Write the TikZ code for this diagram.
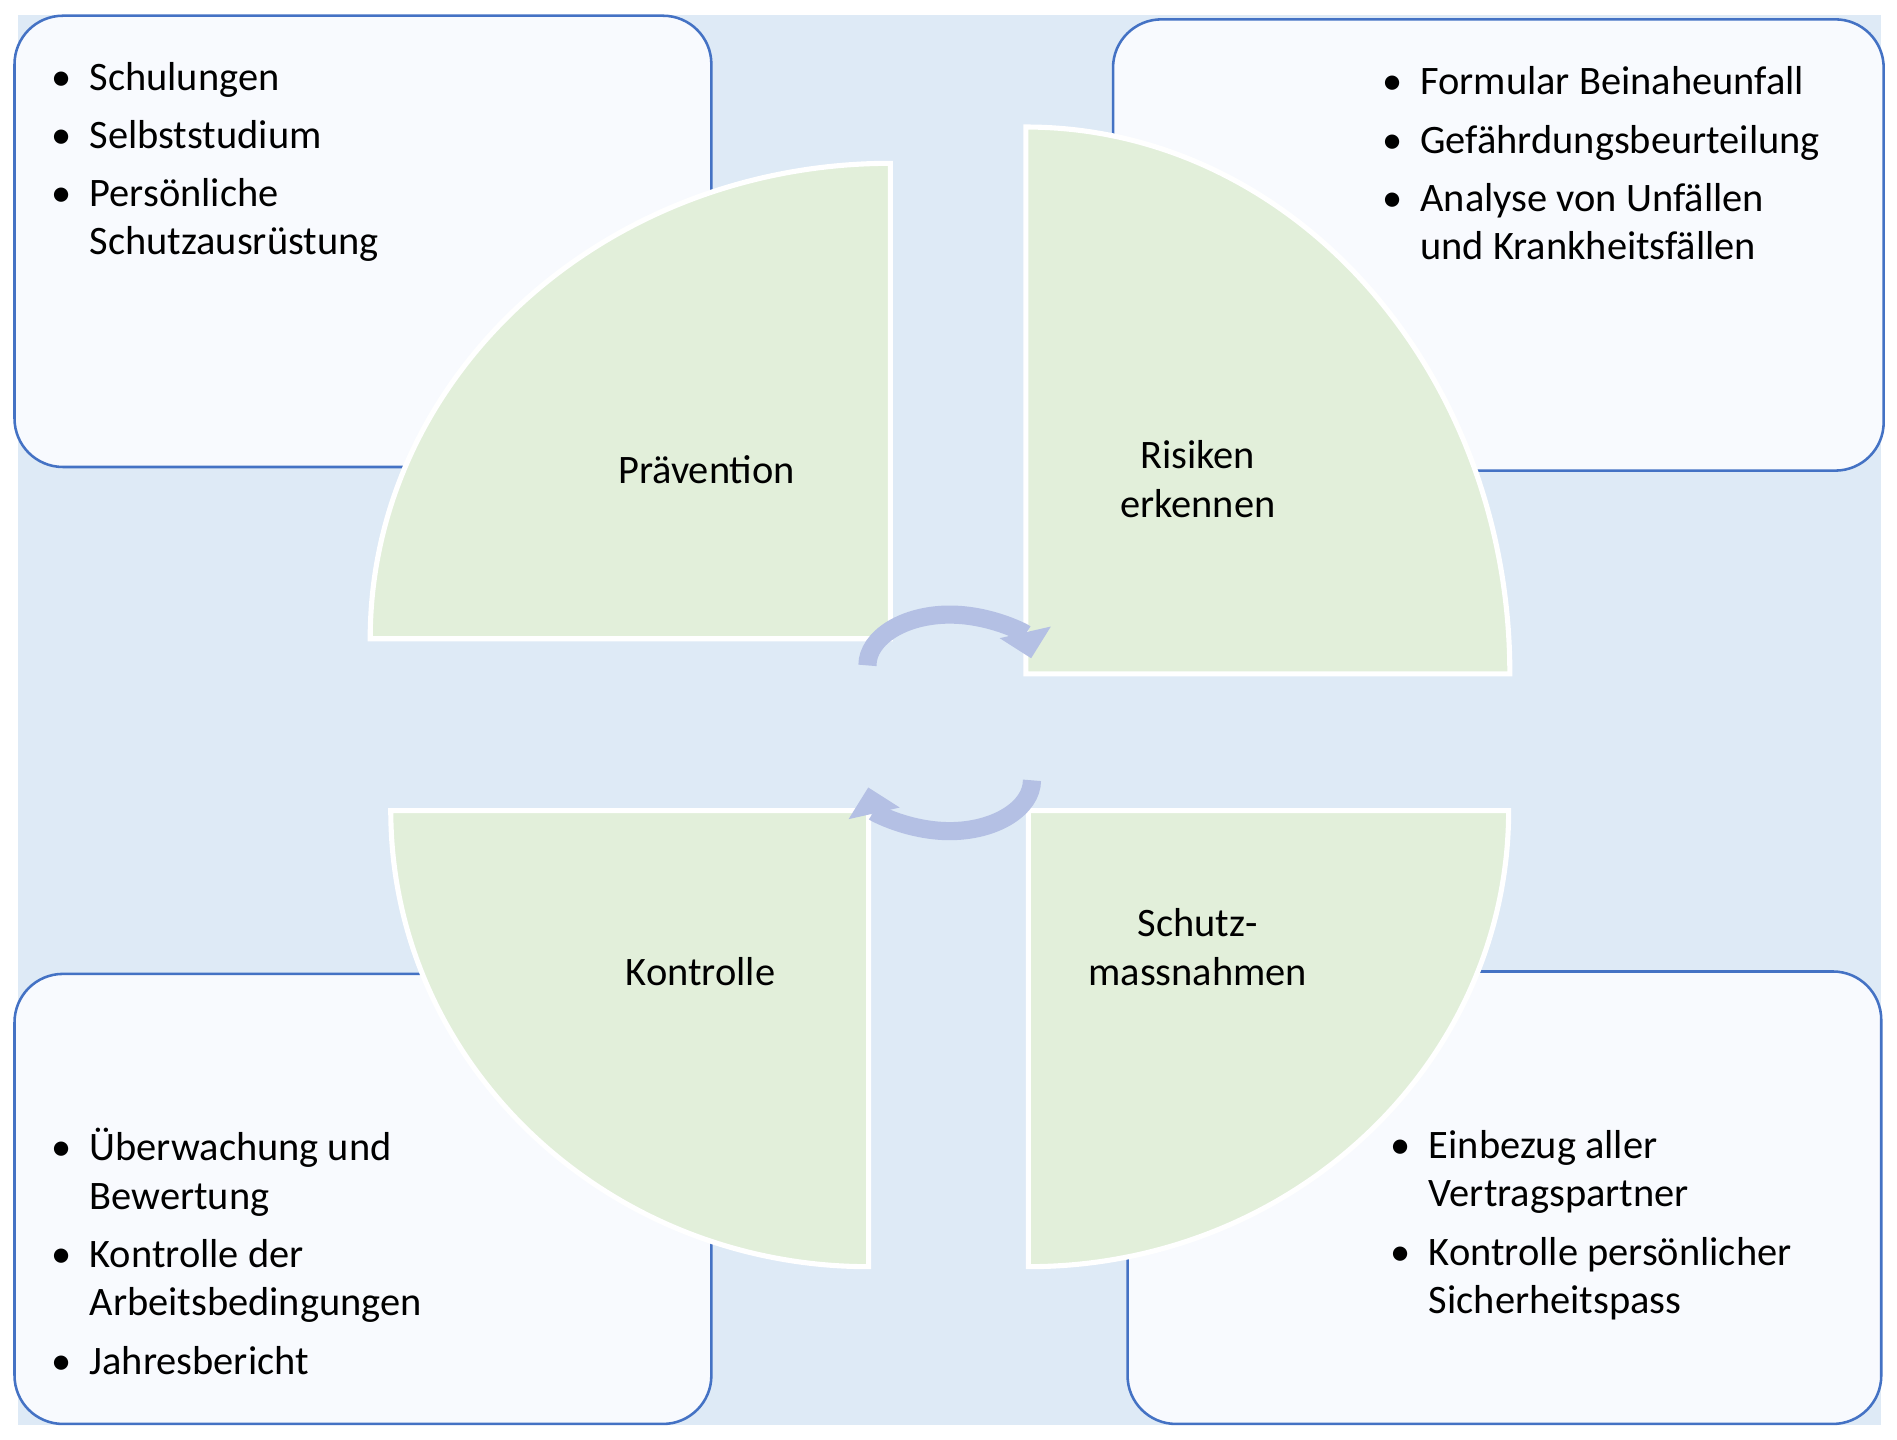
\documentclass[tikz,border=0pt]{standalone}
\usepackage{fontspec}
\setmainfont{Carlito}
\usetikzlibrary{arrows.meta}
\definecolor{bgblue}{HTML}{DEEAF6}
\definecolor{boxline}{HTML}{4472C4}
\definecolor{boxfill}{HTML}{F8FAFE}
\definecolor{leaf}{HTML}{E2EFDA}
\definecolor{cyc}{HTML}{B4C0E4}
\newcommand{\blist}[1]{\begin{tabular}{@{}l@{\hspace{0.15cm}}l@{}}#1\end{tabular}}
\newcommand{\bi}{\textbullet}

\begin{document}
\begin{tikzpicture}[x=0.01cm, y=0.01cm, font=\fontsize{9.5}{11.4}\selectfont]
  \tikzstyle{infobox}=[draw=boxline, fill=boxfill, line width=0.6pt, rounded corners=0.4cm]
  \tikzstyle{quarter}=[fill=leaf, draw=white, line width=1.2pt]
  \tikzstyle{label}=[align=center]
  \tikzstyle{cycle}=[draw=cyc, line width=0.15cm, -{Triangle[length=0.22cm,width=0.42cm]}]
  \useasboundingbox (0,0) rectangle (1568,1190);
  \fill[bgblue] (15,12) rectangle (1555,1178);
  % text boxes
  \draw[infobox] (12,804) rectangle (588,1177);
  \draw[infobox] (920,801) rectangle (1557,1174);
  \draw[infobox] (12,13) rectangle (588,385);
  \draw[infobox] (932,13) rectangle (1555,387);
  % quarters
  \draw[quarter] (736,662) -- (306,662) arc[start angle=180, end angle=90, x radius=430, y radius=393] -- cycle;
  \draw[quarter] (848,633) -- (1248,633) arc[start angle=0, end angle=90, x radius=400, y radius=452] -- cycle;
  \draw[quarter] (718,520) -- (323,520) arc[start angle=180, end angle=270, x radius=395, y radius=377] -- cycle;
  \draw[quarter] (850,520) -- (1247,520) arc[start angle=0, end angle=-90, x radius=397, y radius=377] -- cycle;
  % labels
  \node[label] (praev) at (584,802) {Prävention};
  \node[label] (risk)  at (990,794) {Risiken\\erkennen};
  \node[label] (kontr) at (579,387) {Kontrolle};
  \node[label] (schutz) at (990,407) {Schutz-\\massnahmen};
  % cycle arrows
  \draw[cycle] (717,640) arc[start angle=180, end angle=8, x radius=68, y radius=42];
  \draw[cycle] (853,545) arc[start angle=0, end angle=-172, x radius=68, y radius=42];
  % lists
  \node[anchor=north west] (tl) at (30,1156) {\blist{\bi & Schulungen\\[0.08cm]
    \bi & Selbststudium\\[0.08cm] \bi & Persönliche\\ & Schutzausrüstung}};
  \node[anchor=north west] (tr) at (1130,1152) {\blist{\bi & Formular Beinaheunfall\\[0.08cm]
    \bi & Gefährdungsbeurteilung\\[0.08cm] \bi & Analyse von Unfällen\\ & und Krankheitsfällen}};
  \node[anchor=north west] (bl) at (30,271) {\blist{\bi & Überwachung und\\ & Bewertung\\[0.08cm]
    \bi & Kontrolle der\\ & Arbeitsbedingungen\\[0.08cm] \bi & Jahresbericht}};
  \node[anchor=north west] (br) at (1137,273) {\blist{\bi & Einbezug aller\\ & Vertragspartner\\[0.08cm]
    \bi & Kontrolle persönlicher\\ & Sicherheitspass}};
\end{tikzpicture}
\end{document}
